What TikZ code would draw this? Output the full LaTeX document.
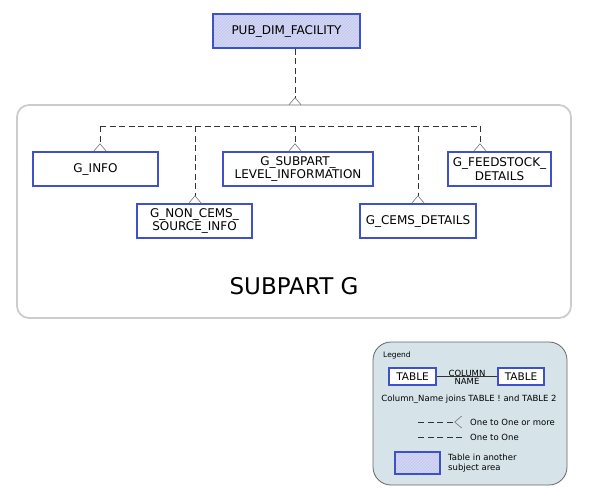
\documentclass[tikz,border=0pt]{standalone}
\usepackage{fontspec}
\setmainfont{DejaVu Sans}
\usetikzlibrary{arrows.meta,patterns}
\definecolor{tblblue}{HTML}{3F51C8}
\definecolor{extfill}{HTML}{C6CBF0}
\definecolor{legfill}{HTML}{D6E4EA}
\definecolor{areagray}{HTML}{CCCCCC}
\tikzset{
  tbl/.style={draw=tblblue, line width=1.7pt, fill=white, inner sep=0pt,
    align=center, font=\fontsize{12}{13.5}\selectfont},
  exttbl/.style={tbl, preaction={fill=extfill}, pattern=north east lines,
    pattern color=white!35!extfill},
  rel/.style={dash pattern=on 6pt off 3.5pt, line width=0.7pt, draw=black!80},
  crow/.style={rel, -{Straight Barb[reversed, length=7pt, width=12pt,
    line width=0.6pt, color=black!55]}},
  legtext/.style={font=\fontsize{8.5}{10.5}\selectfont, align=left, inner sep=0pt}
}
\begin{document}
\begin{tikzpicture}[x=1pt, y=-1pt]
  \useasboundingbox (0,0) rectangle (591,501);
  \draw[areagray, line width=1.8pt, rounded corners=12pt] (17,105) rectangle (571,318);
  \node at (294,286) {\fontsize{23}{27}\selectfont SUBPART G};
  \node[exttbl, minimum width=147pt, minimum height=34pt] (facility) at (286.5,31) {PUB\_DIM\_FACILITY};
  \node[tbl, minimum width=125pt, minimum height=34pt] (ginfo) at (95.5,169) {G\_INFO};
  \node[tbl, minimum width=115pt, minimum height=34pt] (gnoncems) at (194.5,221) {G\_NON\_CEMS\_\\SOURCE\_INFO};
  \node[tbl, minimum width=150pt, minimum height=34pt] (gsubpart) at (298,169) {G\_SUBPART\_\\LEVEL\_INFORMATION};
  \node[tbl, minimum width=116pt, minimum height=34pt] (gcems) at (418,221) {G\_CEMS\_DETAILS};
  \node[tbl, minimum width=103pt, minimum height=34pt] (gfeed) at (499.5,169) {G\_FEEDSTOCK\_\\DETAILS};
  \coordinate (top) at (295,105);
  \coordinate (b1) at (100,126);
  \coordinate (b2) at (195,126);
  \coordinate (b3) at (295,126);
  \coordinate (b4) at (418,126);
  \coordinate (b5) at (480,126);
  \draw[crow] (facility.south -| top) -- (top);
  \draw[rel] (b1) -- (b5);
  \draw[crow] (b1) -- (b1 |- ginfo.north);
  \draw[crow] (b2) -- (b2 |- gnoncems.north);
  \draw[crow] (b3) -- (b3 |- gsubpart.north);
  \draw[crow] (b4) -- (b4 |- gcems.north);
  \draw[crow] (b5) -- (b5 |- gfeed.north);
  \draw[black!60, fill=legfill, line width=0.8pt, rounded corners=18pt] (373,342) rectangle (567,485);
  \node[legtext, anchor=west, font=\fontsize{7.5}{9}\selectfont] (legend) at (383,355) {Legend};
  \node[tbl, minimum width=47pt, minimum height=17pt, font=\fontsize{10.5}{12}\selectfont] (t1) at (412.5,376.5) {TABLE};
  \node[tbl, minimum width=46pt, minimum height=17pt, font=\fontsize{10.5}{12}\selectfont] (t2) at (521,376.5) {TABLE};
  \draw[black!80, line width=0.5pt] (t1.east) -- (t2.west);
  \node[legtext, anchor=south] (colname) at (467,377) {COLUMN};
  \node[legtext, anchor=north] (colname2) at (467,378) {NAME};
  \node[legtext] (joins) at (469,399) {Column\_Name joins TABLE ! and TABLE 2};
  \coordinate (m1) at (418,422);
  \coordinate (m2) at (462,422);
  \coordinate (o1) at (418,437);
  \coordinate (o2) at (462,437);
  \draw[crow, line width=0.5pt] (m1) -- (m2);
  \draw[rel, line width=0.5pt] (o1) -- (o2);
  \node[legtext, anchor=west] (many) at (470,422) {One to One or more};
  \node[legtext, anchor=west] (one) at (470,437) {One to One};
  \node[exttbl, minimum width=45pt, minimum height=22pt] (ext) at (417.5,463) {};
  \node[legtext, anchor=west] (exttext) at (448,463) {Table in another\\subject area};
\end{tikzpicture}
\end{document}
